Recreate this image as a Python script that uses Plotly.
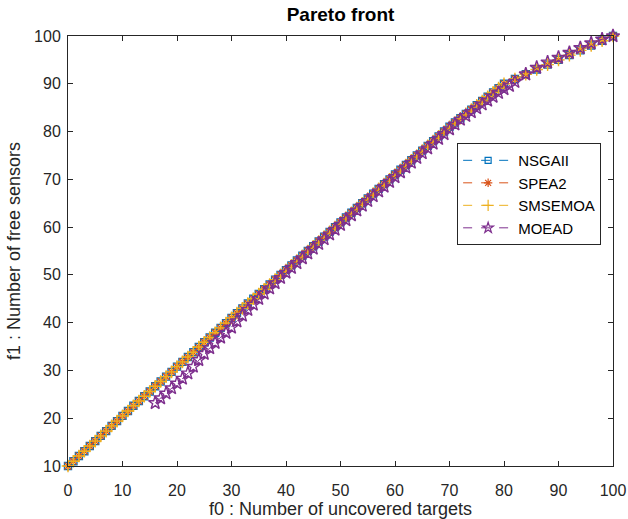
import plotly.graph_objects as go

# f0 values (uncovered targets) shared by NSGAII, SPEA2, SMSEMOA
x_main = [0, 1, 2, 3, 4, 5, 6, 7, 8, 9, 10, 11, 12, 13, 14, 15, 16, 17, 18, 19, 20,
          21, 22, 23, 24, 25, 26, 27, 28, 29, 30, 31, 32, 33, 34, 35, 36, 37, 38, 39, 40,
          41, 42, 43, 44, 45, 46, 47, 48, 49, 50, 51, 52, 53, 54, 55, 56, 57, 58, 59, 60,
          61, 62, 63, 64, 65, 66, 67, 68, 69, 70, 71, 72, 73, 74, 75, 76, 77, 78, 79, 80,
          82, 84, 86, 88, 90, 92, 94, 96, 98, 100]

y_nsgaii = [10, 11, 12.1, 13.1, 14.2, 15.2, 16.3, 17.3, 18.4, 19.4, 20.5,
            21.5, 22.6, 23.6, 24.6, 25.6, 26.7, 27.7, 28.7, 29.7, 30.8,
            31.8, 32.8, 33.8, 34.9, 35.9, 36.9, 37.9, 38.9, 39.9, 41,
            42, 43, 44, 45, 46, 47, 48, 49, 50, 51, 52, 53, 54, 55, 56, 57, 58, 59, 60, 61,
            62, 63, 64, 65, 66, 67, 68, 69, 70, 71, 72, 73, 74, 75, 76, 77, 78, 79, 80, 81,
            81.9, 82.8, 83.7, 84.6, 85.5, 86.4, 87.3, 88.2, 89.1, 90,
            91, 92, 93, 94, 95, 96, 97, 98, 99, 100]

y_spea2 = [10, 11, 12.1, 13.1, 14.2, 15.2, 16.3, 17.3, 18.4, 19.4, 20.5,
           21.5, 22.6, 23.6, 24.6, 25.6, 26.7, 27.7, 28.7, 29.7, 30.8,
           31.8, 32.8, 33.8, 34.9, 35.9, 36.9, 37.9, 38.9, 39.9, 41,
           42, 43, 44, 45, 46, 47, 48, 49, 50, 51, 52, 53, 54, 55, 56, 57, 58, 59, 60, 61,
           62, 63, 64, 65, 66, 67, 68, 69, 70, 71, 72, 73, 74, 75, 76, 77, 78, 79, 80, 81,
           81.9, 82.8, 83.7, 84.6, 85.5, 86.4, 87.3, 88.2, 89.1, 90,
           91, 92, 93, 94, 95, 96, 97, 98, 99, 100]

y_smsemoa = [10, 11, 12.1, 13.1, 14.2, 15.2, 16.3, 17.3, 18.4, 19.4, 20.5,
             21.5, 22.6, 23.6, 24.6, 25.6, 26.7, 27.7, 28.7, 29.7, 30.8,
             31.8, 32.8, 33.8, 34.9, 35.9, 36.9, 37.9, 38.9, 39.9, 41,
             42, 43, 44, 45, 46, 47, 48, 49, 50, 51, 52, 53, 54, 55, 56, 57, 58, 59, 60, 61,
             62, 63, 64, 65, 66, 67, 68, 69, 70, 71, 72, 73, 74, 75, 76, 77, 78, 79, 80, 81,
             81.9, 82.8, 83.7, 84.6, 85.5, 86.4, 87.3, 88.2, 89.1, 90,
             91, 92, 93, 94, 95, 96, 97, 98, 99, 100]

x_moead = [16, 17, 18, 19, 20, 21, 22, 23, 24, 25, 26, 27, 28, 29, 30,
           31, 32, 33, 34, 35, 36, 37, 38, 39, 40,
           41, 42, 43, 44, 45, 46, 47, 48, 49, 50, 51, 52, 53, 54, 55, 56,
           57, 58, 59, 60, 61, 62, 63, 64, 65, 66, 67, 68, 69, 70, 71, 72,
           73, 74, 75, 76, 77, 78, 79, 80, 81,
           82, 84, 86, 88, 90, 92, 94, 96, 98, 100]

y_moead = [23.2, 24.2, 25.2, 26.3, 27.3, 28.3, 29.4, 30.8, 32.2, 33.5, 34.7, 35.8, 36.9, 37.9, 39,
           40.3, 41.5, 42.7, 43.8, 45, 46.1, 47.2, 48.3, 49.4, 50.5,
           51.5, 52.5, 53.5, 54.5, 55.5, 56.5, 57.5, 58.5, 59.5, 60.5, 61.5, 62.5, 63.5, 64.5,
           65.5, 66.5, 67.5, 68.5, 69.5, 70.5, 71.5, 72.5, 73.5, 74.5, 75.5, 76.5, 77.5, 78.5,
           79.5, 80.5, 81.5, 82.5,
           83.3, 84.1, 84.9, 85.7, 86.5, 87.3, 88.1, 88.9, 89.6,
           90.4, 92, 93.4, 94.5, 95.5, 96.5, 97.5, 98.5, 99.3, 100]

x_ticks = [0, 10, 20, 30, 40, 50, 60, 70, 80, 90, 100]
y_ticks = [10, 20, 30, 40, 50, 60, 70, 80, 90, 100]

FONT = "Liberation Sans, Arial, sans-serif"
AX = "#262626"

series = [
    ("NSGAII", x_main, y_nsgaii, "#0072BD", "square-open", 7, 6),
    ("SPEA2", x_main, y_spea2, "#D95319", "asterisk-open", 8, 7),
    ("SMSEMOA", x_main, y_smsemoa, "#EDB120", "cross-thin-open", 9, 8),
    ("MOEAD", x_moead, y_moead, "#7E2F8E", "star-open", 10, 8),
]

fig = go.Figure()
for name, xs, ys, col, sym, sz, lsz in series:
    fig.add_trace(go.Scatter(
        x=xs, y=ys, name=name, mode="lines+markers", showlegend=False,
        legendgroup=name,
        line=dict(color=col, width=1, dash="dash"),
        marker=dict(symbol=sym, size=sz, color=col, line=dict(color=col, width=1.4)),
        cliponaxis=False,
    ))
# legend entries (smaller symbols, like the reference legend)
for name, xs, ys, col, sym, sz, lsz in series:
    fig.add_trace(go.Scatter(
        x=[None], y=[None], name=name, mode="lines+markers", legendgroup=name,
        line=dict(color=col, width=1, dash="dash"),
        marker=dict(symbol=sym, size=lsz, color=col, line=dict(color=col, width=1.2)),
    ))

axis_common = dict(
    showgrid=False, zeroline=False, showline=True, linecolor=AX, linewidth=1,
    mirror="ticks", ticks="inside", ticklen=5, tickcolor=AX, tickwidth=1,
    tickfont=dict(family=FONT, size=16, color=AX), automargin=False,
)

fig.update_layout(
    width=628, height=519,
    margin=dict(l=68, r=15, t=36, b=53),
    paper_bgcolor="white", plot_bgcolor="white",
    font=dict(family=FONT, color=AX),
    title=dict(text="<b>Pareto front</b>", x=0.5, xanchor="center",
               y=1 - 14 / 519, yanchor="middle", yref="container",
               xref="paper",
               font=dict(family=FONT, size=19, color="black")),
    xaxis=dict(range=[0, 100], tickvals=x_ticks, ticklabelstandoff=10,
               title=dict(text="f0 : Number of uncovered targets", standoff=4,
                          font=dict(family=FONT, size=18, color=AX)),
               **axis_common),
    yaxis=dict(range=[10, 100], tickvals=y_ticks, ticklabelstandoff=3,
               title=dict(text="f1 : Number of free sensors", standoff=8,
                          font=dict(family=FONT, size=18, color=AX)),
               **axis_common),
    legend=dict(x=0.714, y=0.751, xanchor="left", yanchor="top",
                bgcolor="white", bordercolor=AX, borderwidth=1,
                font=dict(family=FONT, size=15, color="black"),
                tracegroupgap=0, itemwidth=50),
    showlegend=True,
)

fig.write_html("out.html")
